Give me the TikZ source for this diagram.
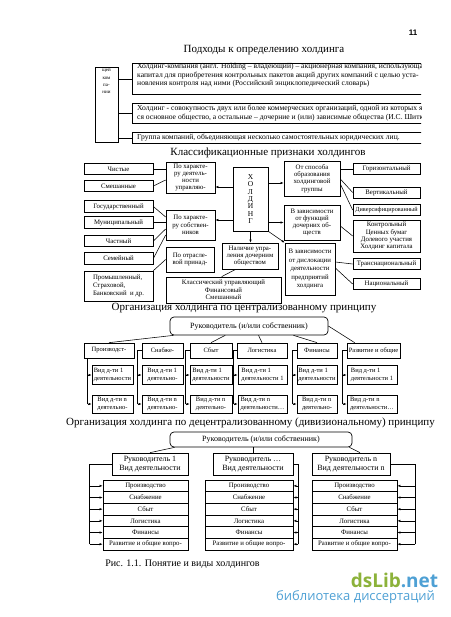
\documentclass[tikz,border=0pt]{standalone}
\usepackage{fontspec}
\setmainfont{Liberation Serif}
\setsansfont{Liberation Sans}
\newfontfamily\wmfont{Open Sans}
\usetikzlibrary{arrows.meta}
\usetikzlibrary{calc}
\definecolor{wmgreen}{RGB}{140,178,58}
\definecolor{wmblue}{RGB}{78,160,212}
\tikzset{box/.style={draw, line width=0.7pt, inner sep=0pt, align=center, font=\fontsize{6.8}{7.3}\selectfont},
%size of a box in px
sz/.style 2 args={minimum width=#1, minimum height=#2},
heading/.style={font=\fontsize{11}{13}\selectfont, inner sep=0pt},
deftext/.style={font=\fontsize{7.6}{8.5}\selectfont, align=left, anchor=west, inner sep=0pt},
boss/.style={draw, rounded corners=4pt, line width=0.7pt, inner sep=0pt, font=\fontsize{8}{9}\selectfont},
sub/.style={box, font=\fontsize{6.5}{8}\selectfont, align=left},
dept/.style={box, font=\fontsize{8}{9}\selectfont},
arr/.style={-{Latex[length=3pt,width=2.4pt]}, line width=0.55pt},
link/.style={line width=0.55pt}}

\begin{document}
\begin{tikzpicture}[x=1pt,y=-1pt]
\useasboundingbox (0,0) rectangle (450,617);

\node[font=\sffamily\bfseries\fontsize{8}{8}\selectfont, inner sep=0pt] (page) at (413,33) {11};

% approaches
\node[heading] (t1) at (264,50) {Подходы к определению холдинга};
\node[box, sz={23pt}{75pt}] (firm) at (106.5,104.5) {};
\node[font=\fontsize{5}{7.3}\selectfont, align=center, anchor=north, inner sep=0pt] (firmtxt) at ([yshift=-1.5pt]firm.north) {щей\\ком\\па-\\нии};
\begin{scope}
\clip (0,0) rectangle (421,617);
\node[box, sz={300pt}{31pt}, anchor=north west] (def1) at (132,63) {};
\node[box, sz={300pt}{20pt}, anchor=north west] (def2) at (132,103) {};
\node[box, sz={300pt}{11pt}, anchor=north west] (def3) at (132,132) {};
\node[deftext] (def1txt) at (137,75.5) {Холдинг-компания (англ. Holding – владеющий) – акционерная компания, использующая\\капитал для приобретения контрольных пакетов акций других компаний с целью уста-\\новления контроля над ними (Российский энциклопедический словарь)};
\node[deftext] (def2txt) at (137,113) {Холдинг - совокупность двух или более коммерческих организаций, одной из которых являет-\\ся основное общество, а остальные – дочерние и (или) зависимые общества (И.С. Шиткина)};
\node[deftext] (def3txt) at (137,137.5) {Группа компаний, объединяющая несколько самостоятельных юридических лиц.};
\end{scope}
\foreach \d in {def1,def2,def3}
  \draw[link] (firm.east |- \d.west) -- (\d.west);

% classification
\node[heading] (t2) at (268,153) {Классификационные признаки холдингов};
\foreach \n/\y/\lbl in {pure/169/Чистые, mixed/186/Смешанные, state/206.5/Государственный, muni/222.5/Муниципальный, priv/241/Частный, fam/258.5/Семейный}
  \node[box, sz={69pt}{11.5pt}] (\n) at (118.5,\y) {\lbl};
\node[box, sz={69pt}{30pt}, align=left, font=\fontsize{6.8}{8}\selectfont] (ind) at (118.5,286) {Промышленный,\\Страховой,\\Банковский \ и др.};

\node[box, sz={49pt}{31pt}] (byact) at (190.5,177.5) {По характе-\\ру деятель-\\ности\\управляю-};
\node[box, sz={49pt}{30pt}] (byown) at (190.5,225) {По характе-\\ру собствен-\\ников};
\node[box, sz={48pt}{25pt}] (bysect) at (190,259.5) {По отрасле-\\вой принад-};
\node[box, sz={115pt}{26pt}] (classic) at (223.5,290) {Классический управляющий\\Финансовый\\Смешанный};
\node[box, sz={56pt}{26pt}] (ctrl) at (250,256) {Наличие упра-\\ления дочерним\\обществом};
\node[box, sz={35pt}{64pt}, font=\fontsize{7.5}{7.3}\selectfont] (hold) at (250.5,199) {Х\\О\\Л\\Д\\И\\Н\\Г};

\node[box, sz={56pt}{35pt}] (byform) at (312,178.5) {От способа\\образования\\холдинговой\\группы};
\node[box, sz={56pt}{35pt}] (byfunc) at (312,222.5) {В зависимости\\от функций\\дочерних об-\\ществ};
\node[box, sz={50pt}{52pt}, font=\fontsize{6.8}{8.5}\selectfont] (byloc) at (310,269) {В зависимости\\от дислокации\\деятельности\\предприятий\\холдинга};

\foreach \n/\y/\lbl in {horiz/169/Горизонтальный, vert/192.5/Вертикальный, trans/264/Транснациональный, nat/284/Национальный}
  \node[box, sz={67pt}{11pt}] (\n) at (386.5,\y) {\lbl};
\node[box, sz={67pt}{11pt}, font=\fontsize{6.2}{7}\selectfont] (div) at (386.5,210) {Диверсифицированный};
\node[box, sz={67pt}{32pt}] (finh) at (386.5,236) {Контрольный\\Ценных бумаг\\Долевого участия\\Холдинг капитала};

% arrows from the centre
\draw[arr] (hold.west |- 0,187) -- (byact.east |- 0,187);
\draw[arr] (hold.west |- 0,220) -- (byown.east |- 0,220);
\draw[arr] (hold.east |- 0,183) -- (byform.west |- 0,183);
\draw[arr] (hold.east |- byfunc.west) -- (byfunc.west);
\draw[arr] (hold.south) -- (hold.south |- ctrl.north);
\draw[arr] (hold.south east) -- (byloc.north west);
\draw[link] ([xshift=14pt]ctrl.south west) -- ([xshift=56pt]classic.north west);

% kinds
\draw[link] (pure.east) -- (byact.west |- pure.east);
\draw[link] (mixed.east) -- (byact.west |- 0,180);
\draw[link] (state.east) -- (byown.west |- 0,217);
\draw[link] (muni.east) -- (byown.west |- muni.east);
\draw[link] (priv.east) -- (byown.west |- 0,229);
\draw[link] (fam.east) -- (byown.west |- 0,235);
\draw[link] (ind.north east) -- (bysect.west);
\draw[link] (byform.east |- horiz.west) -- (horiz.west);
\draw[link] (byform.east |- 0,179) -- (vert.west);
\draw[link] (byform.east |- 0,184) -- (div.west);
\draw[link] (byfunc.east |- 0,226) -- (finh.west);
\draw[link] (byloc.east |- 0,262) -- (trans.west);
\draw[link] (byloc.east |- 0,268) -- (nat.west);

% centralized
\node[heading] (t3) at (244,308) {Организация холдинга по централизованному принципу};
\node[boss, sz={158pt}{18pt}] (head) at (249,326) {Руководитель (и/или собственник)};
\foreach \i/\cx/\w/\lbl in {1/109/50/Производст-, 2/162.5/41/Снабже-, 3/211/42/Сбыт, 4/262/50/Логистика, 5/317/40/Финансы, 6/373.5/53/Развитие и общие}
  \node[box, sz={\w pt}{15pt}, font=\fontsize{6.5}{7}\selectfont] (c\i) at (\cx,350.5) {\lbl};
\foreach \i/\cx/\w/\ta/\tb in {1/112.5/41/{Вид д-ти 1\\деятельности}/{Вид д-ти n\\деятельно-},
    2/162.5/41/{Вид д-ти 1\\деятельно-}/{Вид д-ти n\\деятельно-},
    3/211/42/{Вид д-ти 1\\деятельности}/{Вид д-ти n\\деятельно-},
    4/262.5/49/{Вид д-ти 1\\деятельности 1}/{Вид д-ти n\\деятельности…},
    5/317/40/{Вид д-ти 1\\деятельности}/{Вид д-ти n\\деятельно-},
    6/372/50/{Вид д-ти 1\\деятельности 1}/{Вид д-ти n\\деятельности…}}{
  \node[sub, sz={\w pt}{19pt}] (ra\i) at (\cx,375) {\ta};
  \node[sub, sz={\w pt}{18pt}] (rb\i) at (\cx,404) {\tb};
  \coordinate (f\i) at ([xshift=-4pt]ra\i.west);
  \draw[arr] (f\i |- ra\i.west) -- (ra\i.west);
  \draw[arr] (f\i |- rb\i.west) -- (rb\i.west);
}
\draw[link] (c1.south -| f1) -- (f1 |- rb1.west);
\foreach \i in {2,...,6}
  \draw[link] (c\i.west) -| (f\i |- rb\i.west);
\draw[link] ([xshift=4pt]head.south west) -- (c1.north);
\draw[link] ($(head.south west)!0.35!(head.south east)$) -- (c3.north);
\draw[link] ($(head.south west)!0.56!(head.south east)$) -- (c4.north);
\draw[link] ($(head.south west)!0.78!(head.south east)$) -- (c5.north);
\draw[link] (head.east) -- ([xshift=8pt]c6.north west);

% decentralized
\node[heading] (t4) at (250.5,423) {Организация холдинга по децентрализованному (дивизиональному) принципу};
\node[boss, sz={182pt}{15pt}] (head2) at (261,439.5) {Руководитель (и/или собственник)};
\foreach \j/\cx/\w/\lbl in {1/150/76/{Руководитель 1\\Вид деятельности}, 2/253/80/{Руководитель …\\Вид деятельности}, 3/351/78/{Руководитель n\\Вид деятельности n}}
  \node[dept, sz={\w pt}{22pt}] (d\j) at (\cx,464) {\lbl};
\foreach \j/\cx/\w in {1/145.5/85, 2/249/88, 3/354.5/85}
  \foreach \lbl [count=\rw] in {Производство, Снабжение, Сбыт, Логистика, Финансы, Развитие и общие вопро-}
    \node[box, sz={\w pt}{11.67pt}] (s\j\rw) at (\cx,{474.17+\rw*11.67}) {\lbl};
\coordinate (g1) at ([xshift=-13pt]s11.west);
\coordinate (g2) at ([xshift=5pt]s21.east);
\coordinate (g3) at ([xshift=18pt]s31.east);
\draw[link] (d1.west) -| (g1 |- s16.west);
\draw[link] (d2.east) -| (g2 |- s26.east);
\draw[link] (d3.east) -| (g3 |- s36.east);
\foreach \rw in {1,...,6}{
  \draw[arr] (g1 |- s1\rw.west) -- (s1\rw.west);
  \draw[arr] (g2 |- s2\rw.east) -- (s2\rw.east);
  \draw[arr] (g3 |- s3\rw.east) -- (s3\rw.east);
}
\draw[link] ([xshift=5pt]head2.south west) -- (d1.north);
\draw[link] (head2.south -| d2.north) -- (d2.north);
\draw[link] ([xshift=-3pt]head2.south east) -- ([xshift=9pt]d3.north);

%caption
\node[font=\fontsize{10}{12}\selectfont, inner sep=0pt] (cap) at (182.5,564) {Рис. 1.1. Понятие и виды холдингов};
\node[font=\wmfont\bfseries\fontsize{19}{20}\selectfont, inner sep=0pt] (wm) at (394.5,580) {\textcolor{wmgreen}{dsLib}\textcolor{wmblue}{.net}};
\node[font=\wmfont\fontsize{13}{14}\selectfont, text=wmblue, inner sep=0pt] (wmsub) at (355.5,597) {библиотека диссертаций};
\end{tikzpicture}
\end{document}
